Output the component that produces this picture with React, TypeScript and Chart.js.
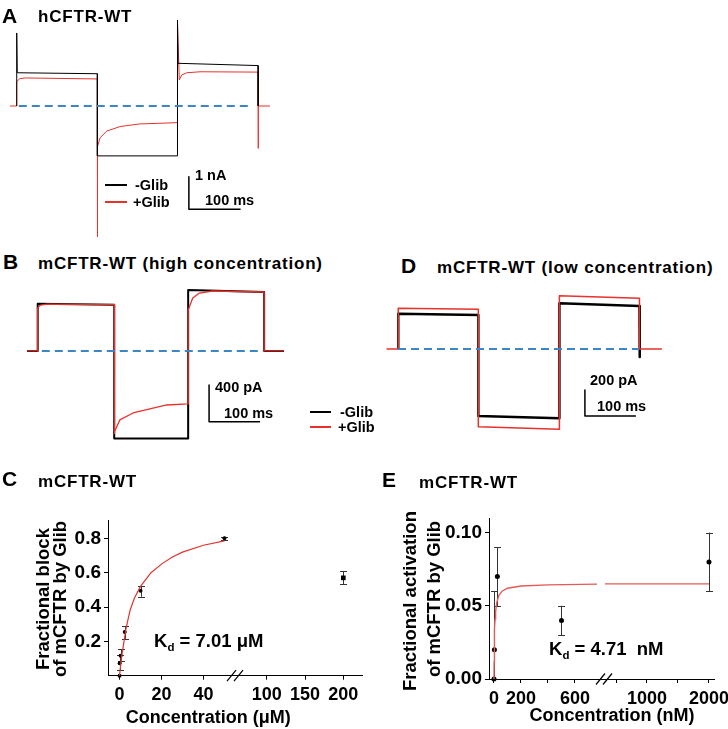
import React, { useEffect, useRef, useState } from 'react';
import { Chart, registerables } from 'chart.js';

Chart.register(...registerables);

type Pt = [number, number];

const FONT = "'Liberation Sans', Arial, Helvetica, sans-serif";
const RED = '#e8322b';
const BLUE = '#3b87c6';
const BLACK = '#000000';

// ---------- Panel A : hCFTR-WT (time in ms, current in nA) ----------
const aMinusGlib: Pt[] = [[13, 0], [13, 2.24], [14, 1.02], [169, 0.99], [169, -1.53], [324, -1.53], [324, 2.64], [325, 1.31], [480, 1.24], [480, 0]];
const aPlusGlib: Pt[] = [[0, 0], [13, 0], [13, 0.75], [19, 0.84], [30, 0.86], [169, 0.83], [169, -4.01], [169.5, -1.25], [174, -0.98], [187, -0.77], [213, -0.63], [251, -0.55], [290, -0.53], [324, -0.51], [324, 2.55], [327.5, 0.8], [332, 0.95], [342, 1.02], [367.5, 1.05], [480, 1.04], [480, -1.3], [480.5, 0], [503, 0]];
const aZero: Pt[] = [[17, 0], [464, 0]];
const aScaleBar: Pt[] = [[346, -2.17], [346, -3.17], [446, -3.17]];

// ---------- Panel B : mCFTR-WT high concentration (ms, pA) ----------
const bMinusGlib: Pt[] = [[0, 0], [21, 0], [21, 515], [170, 505], [171, 505], [171, -954], [316, -954], [316, 665], [465, 643], [465, 0], [504, 0]];
const bPlusGlib: Pt[] = [[0, 0], [21, 0], [21, 470], [26, 500], [40, 510], [171, 505], [171, -900], [172, -880], [182, -752], [208, -676], [241, -632], [274, -589], [316, -578], [316, 447], [325, 578], [338, 632], [364, 654], [465, 643], [465, 0], [504, 0]];
const bZero: Pt[] = [[29, 0], [463, 0]];
const bScaleBar: Pt[] = [[357, -371], [357, -771], [457, -771]];

// ---------- Panel D : mCFTR-WT low concentration (ms, pA) ----------
const dMinusGlib: Pt[] = [[24, 0], [24, 272], [181, 262], [181, -515], [340, -533], [340, 352], [497, 331], [497, -62], [498, 0]];
const dPlusGlib: Pt[] = [[1, 0], [24, 0], [24, 313], [181, 305], [181, -598], [340, -618], [340, 410], [497, 390], [497, 0], [541, 0]];
const dZero: Pt[] = [[23.5, 0], [496, 0]];
const dScaleBar: Pt[] = [[390, -315], [390, -515], [490, -515]];

// ---------- Panel C : fractional block (µM) ----------
const cConc = [0, 0.05, 0.5, 2.5, 10, 50];
const cBlock = [0, 0.072, 0.116, 0.255, 0.495, 0.8];
const cErrLo = [null, 0.033, 0.087, 0.215, 0.46, 0.79];
const cErrHi = [null, 0.12, 0.153, 0.29, 0.52, 0.81];
const cConcHigh = [200];
const cBlockHigh = [0.57];
const cErrLoHigh = [0.533];
const cErrHiHigh = [0.61];
const cFit: Pt[] = [[0, 0], [0.5, 0.06], [1, 0.11], [2, 0.19], [3, 0.27], [5, 0.38], [7, 0.45], [10, 0.52], [15, 0.6], [20, 0.65], [25, 0.69], [30, 0.72], [40, 0.76], [50, 0.785]];
const cYTicks = [0.2, 0.4, 0.6, 0.8];
const cXTicksLow = [0, 20, 40];
const cXLabelsLow = ['0', '20', '40'];
const cXTicksHigh = [100, 150, 200];
const cXLabelsHigh = ['100', '150', '200'];

// ---------- Panel E : fractional activation (nM) ----------
const eConc = [0, 3, 25, 500];
const eAct = [0, 0.02, 0.07, 0.04];
const eErrLo = [null, -0.02, 0.05, 0.03];
const eErrHi = [null, 0.06, 0.09, 0.05];
const eConcHigh = [2000];
const eActHigh = [0.08];
const eErrLoHigh = [0.06];
const eErrHiHigh = [0.1];
const eFitLow: Pt[] = [[0, 0], [1, 0.012], [2, 0.02], [3, 0.026], [5, 0.034], [8, 0.041], [12, 0.046], [20, 0.052], [35, 0.057], [60, 0.06], [100, 0.062], [200, 0.0635], [400, 0.0643], [763, 0.0648]];
const eFitHigh: Pt[] = [[322, 0.065], [2000, 0.065]];
const eYTicks = [0, 0.05, 0.1];
const eXTicksLow = [0, 200, 400, 600];
const eXLabelsLow = ['0', '200', '', '600'];
const eXTicksHigh = [500, 1000, 1500, 2000];
const eXLabelsHigh = ['', '1000', '', '2000'];

const toXY = (pts: Pt[]) => pts.map(([x, y]) => ({ x, y }));

// ---------- plugins ----------
const errorBarPlugin = {
  id: 'errorBars',
  beforeDatasetsDraw(chart: any) {
    const ctx = chart.ctx;
    const a = chart.chartArea;
    chart.data.datasets.forEach((ds: any, di: number) => {
      if (!ds.errLo) return;
      const meta = chart.getDatasetMeta(di);
      const ys = chart.scales[meta.yAxisID];
      ctx.save();
      ctx.beginPath();
      ctx.rect(a.left, a.top - 4, a.right - a.left + 4, a.bottom - a.top + 4);
      ctx.clip();
      ctx.strokeStyle = ds.errColor || '#333';
      ctx.lineWidth = 1;
      const cap = ds.errCap || 3.5;
      meta.data.forEach((el: any, i: number) => {
        const lo = ds.errLo[i];
        const hi = ds.errHi[i];
        if (lo == null || hi == null) return;
        const x = Math.round(el.x) + 0.5;
        const yl = ys.getPixelForValue(lo);
        const yh = ys.getPixelForValue(hi);
        ctx.beginPath();
        ctx.moveTo(x, yl);
        ctx.lineTo(x, yh);
        ctx.moveTo(x - cap, Math.round(yl) + 0.5);
        ctx.lineTo(x + cap, Math.round(yl) + 0.5);
        ctx.moveTo(x - cap, Math.round(yh) + 0.5);
        ctx.lineTo(x + cap, Math.round(yh) + 0.5);
        ctx.stroke();
      });
      ctx.restore();
    });
  },
};

const breakPlugin = {
  id: 'axisBreak',
  afterDraw(chart: any, _args: any, opts: any) {
    const xs = chart.scales.x;
    const ctx = chart.ctx;
    const cx = xs.right + ((opts && opts.dx) || 0);
    const cy = xs.top;
    ctx.save();
    ctx.strokeStyle = '#000';
    ctx.lineWidth = 1.2;
    for (const off of [-3.5, 3.5]) {
      ctx.beginPath();
      ctx.moveTo(cx + off - 4.5, cy + 5.5);
      ctx.lineTo(cx + off + 4.5, cy - 5.5);
      ctx.stroke();
    }
    ctx.restore();
  },
};

// ---------- text helpers ----------
function Txt(props: { x: number; y: number; size: number; children: any; center?: boolean; ls?: number }) {
  return (
    <div
      style={{
        position: 'absolute',
        left: props.x,
        top: props.y,
        fontFamily: FONT,
        fontWeight: 'bold',
        fontSize: props.size,
        lineHeight: 1,
        whiteSpace: 'nowrap',
        color: '#000',
        letterSpacing: props.ls || 0,
        transform: props.center ? 'translate(-50%,-50%)' : 'translateY(-50%)',
        zIndex: 2,
      }}
    >
      {props.children}
    </div>
  );
}

function VTxt(props: { x: number; y: number; size: number; children: any }) {
  return (
    <div
      style={{
        position: 'absolute',
        left: props.x,
        top: props.y,
        fontFamily: FONT,
        fontWeight: 'bold',
        fontSize: props.size,
        lineHeight: 1,
        whiteSpace: 'nowrap',
        color: '#000',
        transform: 'translate(-50%,-50%) rotate(-90deg)',
      }}
    >
      {props.children}
    </div>
  );
}

function Line(props: { x: number; y: number; w: number; color: string; h?: number }) {
  const h = props.h || 2;
  return <div style={{ position: 'absolute', left: props.x, top: Math.round(props.y - h / 2), width: props.w, height: h, background: props.color }} />;
}

const Kd = (props: { value: string }) => (
  <span>
    K<span style={{ fontSize: '0.62em', position: 'relative', top: '0.35em' }}>d</span> = {props.value}
  </span>
);

// ---------- trace chart ----------
type Series = { pts: Pt[]; color: string; width: number; dash?: number[] };

function TraceChart(props: { left: number; top: number; width: number; height: number; xMin: number; xMax: number; yMin: number; yMax: number; series: Series[] }) {
  const ref = useRef<HTMLCanvasElement>(null);
  useEffect(() => {
    const chart = new Chart(ref.current as HTMLCanvasElement, {
      type: 'scatter',
      data: {
        datasets: props.series.map((s) => ({
          data: toXY(s.pts),
          showLine: true,
          borderColor: s.color,
          backgroundColor: s.color,
          borderWidth: s.width,
          borderDash: s.dash || [],
          borderJoinStyle: 'round',
          pointRadius: 0,
          tension: 0,
          fill: false,
          clip: false,
        })) as any,
      },
      options: {
        animation: false,
        responsive: false,
        events: [],
        layout: { padding: 0 },
        plugins: { legend: { display: false }, tooltip: { enabled: false } },
        scales: {
          x: { type: 'linear', display: false, min: props.xMin, max: props.xMax },
          y: { type: 'linear', display: false, min: props.yMin, max: props.yMax },
        },
      },
    });
    return () => chart.destroy();
  }, []);
  return (
    <canvas
      ref={ref}
      width={props.width}
      height={props.height}
      style={{ position: 'absolute', left: props.left, top: props.top, width: props.width, height: props.height }}
    />
  );
}

// ---------- dose-response chart ----------
const yTickFont = { family: FONT, size: 19, weight: 'bold' as const };

function xScale(stackWeight: number, min: number, max: number, ticks: number[], height: number) {
  return {
    type: 'linear',
    position: 'bottom',
    stack: 'xs',
    stackWeight,
    min,
    max,
    afterBuildTicks: (s: any) => {
      s.ticks = ticks.map((v) => ({ value: v }));
    },
    afterFit: (s: any) => {
      s.height = height;
    },
    grid: { display: true, drawOnChartArea: false, drawTicks: true, tickLength: 4, color: '#000', lineWidth: 1 },
    border: { display: true, color: '#000', width: 1 },
    ticks: { display: false, autoSkip: false },
  };
}

type TickLabel = { x: number; y: number; t: string };

function DoseChart(props: {
  left: number; top: number; width: number; height: number;
  padTop: number; padRight: number; yWidth: number;
  yMax: number; yTicks: number[]; yDigits: number;
  xLow: any; xHigh: any;
  lowTicks: number[]; lowLabels: string[]; highTicks: number[]; highLabels: string[];
  datasets: any[]; breakDx: number;
}) {
  const ref = useRef<HTMLCanvasElement>(null);
  const [tickLabels, setTickLabels] = useState<TickLabel[]>([]);
  useEffect(() => {
    const chart = new Chart(ref.current as HTMLCanvasElement, {
      type: 'scatter',
      data: { datasets: props.datasets },
      plugins: [errorBarPlugin, breakPlugin] as any,
      options: {
        animation: false,
        responsive: false,
        events: [],
        layout: { padding: { top: props.padTop, right: props.padRight, left: 0, bottom: 0 } },
        plugins: { legend: { display: false }, tooltip: { enabled: false }, axisBreak: { dx: props.breakDx } } as any,
        scales: {
          x: props.xLow,
          x2: props.xHigh,
          y: {
            type: 'linear',
            position: 'left',
            min: 0,
            max: props.yMax,
            afterBuildTicks: (s: any) => {
              s.ticks = props.yTicks.map((v) => ({ value: v }));
            },
            afterFit: (s: any) => {
              s.width = props.yWidth;
            },
            grid: { display: true, drawOnChartArea: false, drawTicks: true, tickLength: 4, color: '#000', lineWidth: 1 },
            border: { display: true, color: '#000', width: 1 },
            ticks: {
              font: yTickFont,
              color: '#000',
              padding: 3,
              autoSkip: false,
              callback: (v: any) => Number(v).toFixed(props.yDigits),
            },
          },
        } as any,
      },
    });
    // x tick labels positioned through the chart's own x scales
    const out: TickLabel[] = [];
    const groups: [string, number[], string[]][] = [
      ['x', props.lowTicks, props.lowLabels],
      ['x2', props.highTicks, props.highLabels],
    ];
    for (const [id, vals, texts] of groups) {
      const s: any = chart.scales[id];
      vals.forEach((v, i) => {
        const txt = texts[i];
        if (!txt) return;
        out.push({ x: props.left + s.getPixelForValue(v), y: props.top + s.top + 18.5, t: txt });
      });
    }
    setTickLabels(out);
    return () => chart.destroy();
  }, []);
  return (
    <>
      <canvas
        ref={ref}
        width={props.width}
        height={props.height}
        style={{ position: 'absolute', left: props.left, top: props.top, width: props.width, height: props.height }}
      />
      {tickLabels.map((l) => (
        <Txt key={l.t + '_' + Math.round(l.x)} x={l.x} y={l.y} size={18} center>{l.t}</Txt>
      ))}
    </>
  );
}

export default function App() {
  const markerDs = (xs: number[], ys: number[], lo: any[], hi: any[], axis: string, radius: number, style: string) => ({
    data: xs.map((x, i) => ({ x, y: ys[i] })),
    xAxisID: axis,
    showLine: false,
    pointRadius: radius,
    pointStyle: style,
    pointBackgroundColor: '#000',
    pointBorderColor: '#000',
    pointBorderWidth: 0,
    errLo: lo,
    errHi: hi,
    errColor: '#333',
    errCap: 3.5,
    clip: false,
  });
  const curveDs = (pts: Pt[], axis: string, color: string, width: number) => ({
    data: toXY(pts),
    xAxisID: axis,
    showLine: true,
    borderColor: color,
    borderWidth: width,
    pointRadius: 0,
    tension: 0,
    fill: false,
  });

  const cDatasets = [
    curveDs(cFit, 'x', '#e0352d', 1.2),
    markerDs(cConc, cBlock, cErrLo, cErrHi, 'x', 2, 'circle'),
    markerDs(cConcHigh, cBlockHigh, cErrLoHigh, cErrHiHigh, 'x2', 3.3, 'rect'),
  ];
  const eDatasets = [
    curveDs(eFitLow, 'x', '#e45a55', 1.4),
    curveDs(eFitHigh, 'x2', '#e45a55', 1.4),
    markerDs(eConc, eAct, eErrLo, eErrHi, 'x', 2.5, 'circle'),
    markerDs(eConcHigh, eActHigh, eErrLoHigh, eErrHiHigh, 'x2', 2.5, 'circle'),
  ];

  return (
    <div style={{ position: 'absolute', left: 0, top: 0, width: 728, height: 729, background: '#fff', overflow: 'hidden' }}>
      {/* Panel A */}
      <TraceChart
        left={10} top={10} width={265} height={235}
        xMin={0} xMax={512.6} yMin={-4.264} yMax={2.945}
        series={[
          { pts: aZero, color: BLUE, width: 2, dash: [8, 5] },
          { pts: aMinusGlib, color: BLACK, width: 1 },
          { pts: aPlusGlib, color: RED, width: 1 },
          { pts: aScaleBar, color: BLACK, width: 1.5 },
        ]}
      />
      <Txt x={2} y={14.5} size={21}>A</Txt>
      <Txt x={38} y={15.5} size={17} ls={0.8}>hCFTR-WT</Txt>
      <Line x={105} y={185} w={22} color={BLACK} />
      <Line x={105} y={202} w={22} color={RED} />
      <Txt x={135} y={185} size={14.5}>-Glib</Txt>
      <Txt x={133} y={202} size={14.5}>+Glib</Txt>
      <Txt x={195} y={175} size={14.5}>1 nA</Txt>
      <Txt x={205} y={200} size={14.5}>100 ms</Txt>

      {/* Panel B */}
      <TraceChart
        left={27} top={280} width={260} height={170}
        xMin={0} xMax={509.8} yMin={-1080} yMax={774}
        series={[
          { pts: bZero, color: BLUE, width: 2, dash: [8, 5] },
          { pts: bPlusGlib, color: RED, width: 1.3 },
          { pts: bMinusGlib, color: BLACK, width: 2 },
          { pts: bScaleBar, color: BLACK, width: 1.5 },
        ]}
      />
      <Txt x={3} y={261} size={21}>B</Txt>
      <Txt x={38} y={263} size={17} ls={0.8}>mCFTR-WT (high concentration)</Txt>
      <Txt x={215} y={386.5} size={14.5}>400 pA</Txt>
      <Txt x={224} y={412.5} size={14.5}>100 ms</Txt>
      <Line x={310} y={412} w={21} color={BLACK} />
      <Line x={310} y={427} w={21} color={RED} />
      <Txt x={340} y={411.7} size={14.5}>-Glib</Txt>
      <Txt x={338} y={426.7} size={14.5}>+Glib</Txt>

      {/* Panel D */}
      <TraceChart
        left={386} top={280} width={280} height={160}
        xMin={0} xMax={549} yMin={-700} yMax={530.8}
        series={[
          { pts: dZero, color: BLUE, width: 2, dash: [8, 5] },
          { pts: dPlusGlib, color: RED, width: 1.5 },
          { pts: dMinusGlib, color: BLACK, width: 2.5 },
          { pts: dScaleBar, color: BLACK, width: 1.5 },
        ]}
      />
      <Txt x={401} y={265} size={21}>D</Txt>
      <Txt x={437} y={266.5} size={17} ls={0.8}>mCFTR-WT (low concentration)</Txt>
      <Txt x={590} y={380} size={14.5}>200 pA</Txt>
      <Txt x={597} y={406.2} size={14.5}>100 ms</Txt>

      {/* Panel C */}
      <DoseChart
        left={0} top={500} width={370} height={229}
        padTop={20} padRight={8} yWidth={108}
        yMax={0.907} yTicks={cYTicks} yDigits={1}
        xLow={xScale(129, -5.5, 56, cXTicksLow, 53.3)}
        xHigh={xScale(125, 61.2, 224.4, cXTicksHigh, 53.3)}
        lowTicks={cXTicksLow} lowLabels={cXLabelsLow}
        highTicks={cXTicksHigh} highLabels={cXLabelsHigh}
        datasets={cDatasets}
        breakDx={-2}
      />
      <Txt x={2} y={477.5} size={21}>C</Txt>
      <Txt x={38} y={481} size={17} ls={0.8}>mCFTR-WT</Txt>
      <VTxt x={42.5} y={598.5} size={18.5}>Fractional block</VTxt>
      <VTxt x={60} y={598.5} size={18.5}>of mCFTR by Glib</VTxt>
      <Txt x={154} y={641} size={18.5}><Kd value="7.01 μM" /></Txt>
      <Txt x={208.3} y={716.7} size={18} center>Concentration (μM)</Txt>

      {/* Panel E */}
      <DoseChart
        left={370} top={500} width={358} height={229}
        padTop={18} padRight={14} yWidth={119}
        yMax={0.11} yTicks={eYTicks} yDigits={2}
        xLow={xScale(113, -37, 800, eXTicksLow, 50)}
        xHigh={xScale(112, 274, 2081, eXTicksHigh, 50)}
        lowTicks={eXTicksLow} lowLabels={eXLabelsLow}
        highTicks={eXTicksHigh} highLabels={eXLabelsHigh}
        datasets={eDatasets}
        breakDx={2}
      />
      <Txt x={382} y={478.5} size={21}>E</Txt>
      <Txt x={419} y={481.5} size={17} ls={0.8}>mCFTR-WT</Txt>
      <VTxt x={409.5} y={601} size={18.5}>Fractional activation</VTxt>
      <VTxt x={434} y={599} size={18.5}>of mCFTR by Glib</VTxt>
      <Txt x={549} y={649} size={18.5}><Kd value={'4.71\u00a0 nM'} /></Txt>
      <Txt x={612} y={715} size={18} center>Concentration (nM)</Txt>
    </div>
  );
}
